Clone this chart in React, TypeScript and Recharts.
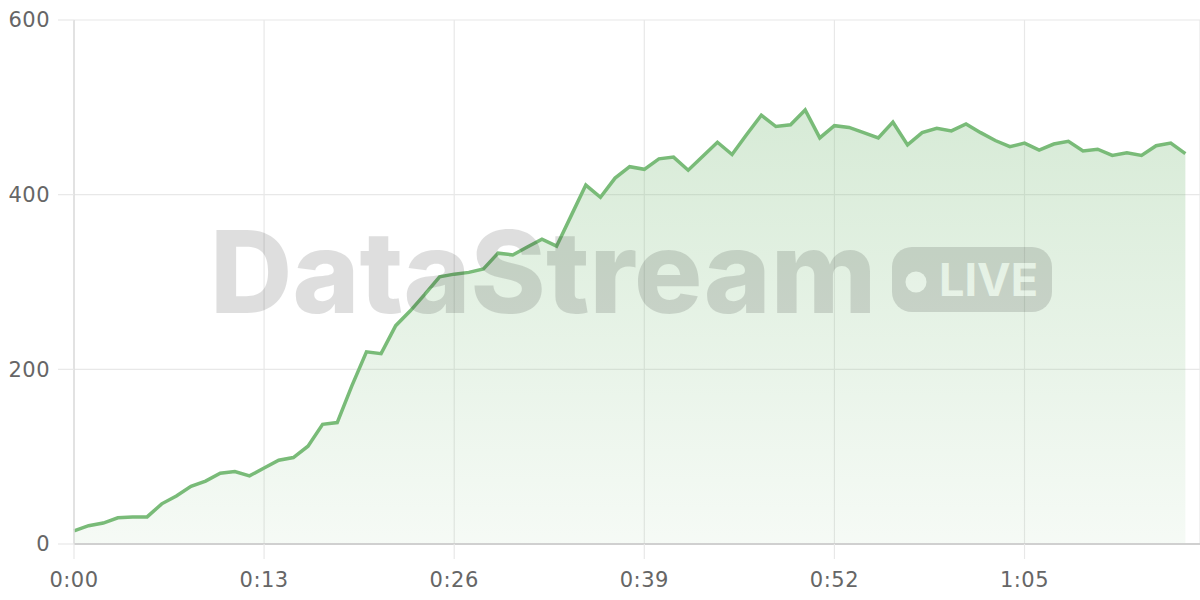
import React from "react";
import { AreaChart, Area, XAxis, YAxis, CartesianGrid } from "recharts";

const seconds: number[] = Array.from({ length: 77 }, (_, i) => i);
const viewers: number[] = [
  15, 21, 24, 30, 31, 31, 46, 55, 66, 72,
  81, 83, 78, 87, 96, 99, 112, 137, 139, 181,
  220, 218, 250, 267, 286, 306, 309, 311, 315, 333,
  331, 340, 349, 341, 376, 411, 397, 419, 432, 429,
  441, 443, 428, 444, 460, 446, 469, 491, 478, 480,
  497, 465, 479, 477, 471, 465, 483, 457, 471, 476,
  473, 481, 471, 462, 455, 459, 451, 458, 461, 450,
  452, 445, 448, 445, 456, 459, 447,
];
const xTicks: number[] = [0, 13, 26, 39, 52, 65];
const yTicks: number[] = [0, 200, 400, 600];
const watermarkTitle = "DataStream";
const watermarkBadge = "LIVE";

const data = seconds.map((t, i) => ({ t, v: viewers[i] }));

const fmt = (s: number) => {
  const m = Math.floor(s / 60);
  const r = s % 60;
  return `${m}:${r < 10 ? "0" : ""}${r}`;
};

const LINE = "#79bb78";
const tickStyle = { fill: "#666", fontSize: 21, fontFamily: "DejaVu Sans", letterSpacing: 0.5 };

export default function App() {
  return (
    <div style={{ position: "absolute", left: 0, top: 0, width: 1200, height: 600, background: "#fff" }}>
      <AreaChart width={1200} height={600} data={data} margin={{ top: 20, right: 0, bottom: 0, left: 0 }}>
        <defs>
          <linearGradient id="fillG" x1="0" y1="0" x2="0" y2="1">
            <stop offset="0%" stopColor={LINE} stopOpacity={0.3} />
            <stop offset="100%" stopColor={LINE} stopOpacity={0.07} />
          </linearGradient>
        </defs>
        <CartesianGrid stroke="#e8e8e8" strokeWidth={1.2} />
        <XAxis
          dataKey="t"
          type="number"
          domain={[0, 77]}
          ticks={xTicks}
          tickFormatter={fmt}
          height={56}
          tickSize={15}
          tickMargin={13}
          tick={tickStyle}
          axisLine={{ stroke: "#d0d0d0", strokeWidth: 2 }}
          tickLine={{ stroke: "#e8e8e8", strokeWidth: 1.2 }}
        />
        <YAxis
          type="number"
          domain={[0, 600]}
          ticks={yTicks}
          width={74}
          tickSize={16}
          tickMargin={8}
          tick={tickStyle}
          axisLine={{ stroke: "#dcdcdc", strokeWidth: 1.5 }}
          tickLine={{ stroke: "#e8e8e8", strokeWidth: 1.2 }}
        />
        <Area
          type="linear"
          dataKey="v"
          stroke={LINE}
          strokeWidth={3.5}
          fill="url(#fillG)"
          fillOpacity={1}
          dot={false}
          activeDot={false}
          isAnimationActive={false}
        />
      </AreaChart>
      <svg
        width={1200}
        height={600}
        style={{ position: "absolute", left: 0, top: 0, pointerEvents: "none" }}
      >
        <g opacity={0.125}>
          <text x={210} y={313} fontFamily="Inter" fontWeight={800} fontSize={114} fill="#000">
            {watermarkTitle}
          </text>
          <rect x={892} y={247} width={160} height={65} rx={20} ry={20} fill="#000" />
          <circle cx={916} cy={282} r={10.5} fill="#fff" />
          <text x={939} y={296} fontFamily="Inter" fontWeight={700} fontSize={45} fill="#fff">
            {watermarkBadge}
          </text>
        </g>
      </svg>
    </div>
  );
}
